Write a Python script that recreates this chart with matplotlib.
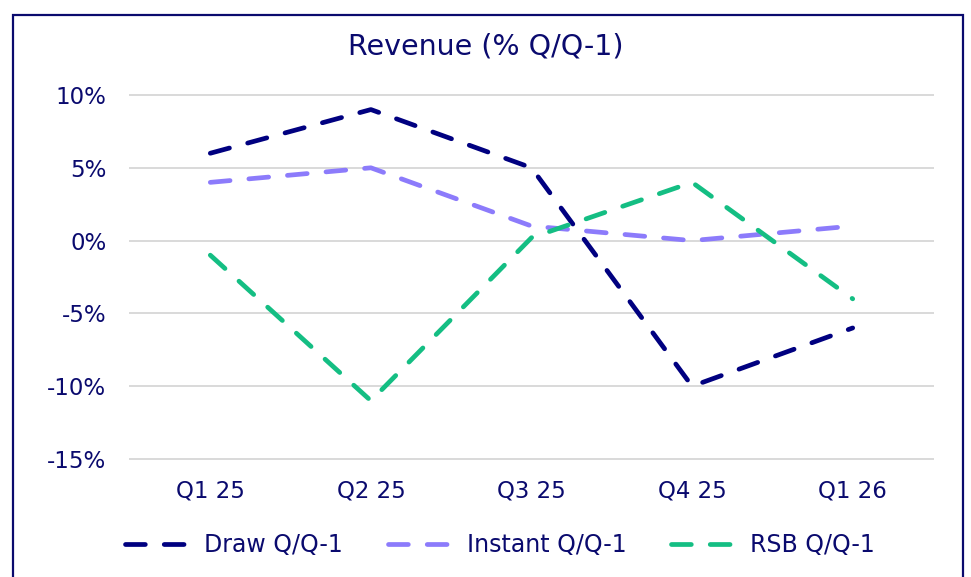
import matplotlib.pyplot as plt
from matplotlib.patches import Rectangle
from matplotlib.ticker import FuncFormatter

quarters = ["Q1 25", "Q2 25", "Q3 25", "Q4 25", "Q1 26"]
draw = [6, 9, 5, -10, -6]
instant = [4, 5, 1, 0, 1]
rsb = [-1, -11, 0.2, 4, -4]

NAVY = "#0a0a6e"
plt.rcParams['font.family'] = ['DejaVu Sans']

fig = plt.figure(figsize=(9.71, 5.77), dpi=100)
ax = fig.add_axes([130 / 971, 1 - 459 / 577, 803 / 971, 364 / 577])

x = range(len(quarters))
series = [
    ("Draw Q/Q-1", draw, "#000080"),
    ("Instant Q/Q-1", instant, "#8c7bfb"),
    ("RSB Q/Q-1", rsb, "#14be83"),
]
for name, vals, col in series:
    ax.plot(x, vals, color=col, lw=3.4, dashes=(4.2, 4.0),
            dash_capstyle='round', label=name)

ax.set_xlim(-0.5, 4.5)
ax.set_ylim(-15, 10)
ax.set_yticks(range(-15, 11, 5))
ax.yaxis.set_major_formatter(FuncFormatter(lambda v, p: f"{v:.0f}%"))
ax.set_xticks(list(x))
ax.set_xticklabels(quarters)
ax.tick_params(length=0, labelsize=16.5, colors=NAVY)
ax.tick_params(axis='x', pad=15)
ax.tick_params(axis='y', pad=17)
ax.grid(axis='y', color='#d9d9d9', lw=1.4)
for gl in ax.get_ygridlines():
    gl.set_clip_on(False)
ax.set_axisbelow(True)
for s in ax.spines.values():
    s.set_visible(False)

fig.text(0.5, 1 - 46 / 577, "Revenue (% Q/Q-1)", ha='center', va='center',
         fontsize=20.5, color=NAVY)

fig.legend(loc='center', bbox_to_anchor=(500 / 971, 1 - 545 / 577), ncol=3,
           frameon=False, fontsize=17, labelcolor=NAVY, handlelength=2.8,
           handletextpad=0.55, columnspacing=1.9)

fig.patches.append(Rectangle((13 / 971, -0.05), 950 / 971, 1.05 - 15 / 577,
                             transform=fig.transFigure, fill=False,
                             edgecolor=NAVY, lw=1.6))

fig.savefig("out.png", dpi=100)
